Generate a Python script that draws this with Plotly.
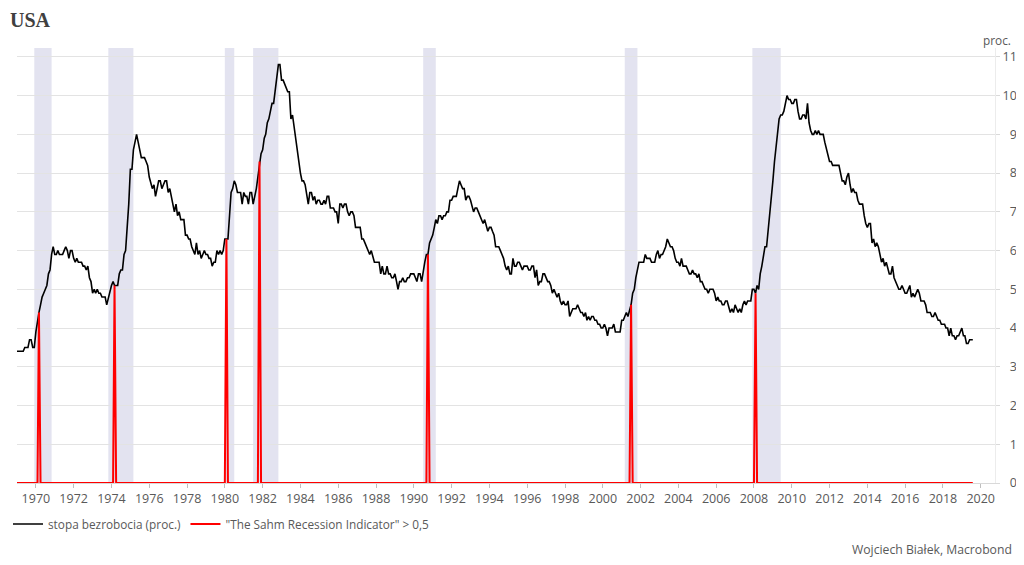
"""USA unemployment rate vs. Sahm recession indicator triggers."""

import pandas as pd
import plotly.graph_objects as go

FONT = "Open Sans, Noto Sans, sans-serif"
GREY_TEXT = "#595959"
GRID = "#e3e3e3"

# Monthly US unemployment rate, Jan 1969 - Aug 2019 (proc.)
start_month = "1969-01-01"
unemployment = [
    3.4, 3.4, 3.4, 3.4, 3.4, 3.5, 3.5, 3.5, 3.7, 3.7, 3.5, 3.5,  # 1969
    3.9, 4.2, 4.4, 4.6, 4.8, 4.9, 5.0, 5.1, 5.4, 5.5, 5.9, 6.1,  # 1970
    5.9, 5.9, 6.0, 5.9, 5.9, 5.9, 6.0, 6.1, 6.0, 5.8, 6.0, 6.0,  # 1971
    5.8, 5.7, 5.8, 5.7, 5.7, 5.7, 5.6, 5.6, 5.5, 5.6, 5.3, 5.2,  # 1972
    4.9, 5.0, 4.9, 5.0, 4.9, 4.9, 4.8, 4.8, 4.8, 4.6, 4.8, 4.9,  # 1973
    5.1, 5.2, 5.1, 5.1, 5.1, 5.4, 5.5, 5.5, 5.9, 6.0, 6.6, 7.2,  # 1974
    8.1, 8.1, 8.6, 8.8, 9.0, 8.8, 8.6, 8.4, 8.4, 8.4, 8.3, 8.2,  # 1975
    7.9, 7.7, 7.6, 7.7, 7.4, 7.6, 7.8, 7.8, 7.6, 7.7, 7.8, 7.8,  # 1976
    7.5, 7.6, 7.4, 7.2, 7.0, 7.2, 6.9, 7.0, 6.8, 6.8, 6.8, 6.4,  # 1977
    6.4, 6.3, 6.3, 6.1, 6.0, 5.9, 6.2, 5.9, 6.0, 5.8, 5.9, 6.0,  # 1978
    5.9, 5.9, 5.8, 5.8, 5.6, 5.7, 5.7, 6.0, 5.9, 6.0, 5.9, 6.0,  # 1979
    6.3, 6.3, 6.3, 6.9, 7.5, 7.6, 7.8, 7.7, 7.5, 7.5, 7.5, 7.2,  # 1980
    7.5, 7.4, 7.4, 7.2, 7.5, 7.5, 7.2, 7.4, 7.6, 7.9, 8.3, 8.5,  # 1981
    8.6, 8.9, 9.0, 9.3, 9.4, 9.6, 9.8, 9.8, 10.1, 10.4, 10.8, 10.8,  # 1982
    10.4, 10.4, 10.3, 10.2, 10.1, 10.1, 9.4, 9.5, 9.2, 8.8, 8.5, 8.3,  # 1983
    8.0, 7.8, 7.8, 7.7, 7.4, 7.2, 7.5, 7.5, 7.3, 7.4, 7.2, 7.3,  # 1984
    7.3, 7.2, 7.2, 7.3, 7.2, 7.4, 7.4, 7.1, 7.1, 7.1, 7.0, 7.0,  # 1985
    6.7, 7.2, 7.2, 7.1, 7.2, 7.2, 7.0, 6.9, 7.0, 7.0, 6.9, 6.6,  # 1986
    6.6, 6.6, 6.6, 6.3, 6.3, 6.2, 6.1, 6.0, 5.9, 6.0, 5.8, 5.7,  # 1987
    5.7, 5.7, 5.7, 5.4, 5.6, 5.4, 5.4, 5.6, 5.4, 5.4, 5.3, 5.3,  # 1988
    5.4, 5.2, 5.0, 5.2, 5.2, 5.3, 5.2, 5.2, 5.3, 5.3, 5.4, 5.4,  # 1989
    5.4, 5.3, 5.2, 5.4, 5.4, 5.2, 5.5, 5.7, 5.9, 5.9, 6.2, 6.3,  # 1990
    6.4, 6.6, 6.8, 6.7, 6.9, 6.9, 6.8, 6.9, 6.9, 7.0, 7.0, 7.3,  # 1991
    7.3, 7.4, 7.4, 7.4, 7.6, 7.8, 7.7, 7.6, 7.6, 7.3, 7.4, 7.4,  # 1992
    7.3, 7.1, 7.0, 7.1, 7.1, 7.0, 6.9, 6.8, 6.7, 6.8, 6.6, 6.5,  # 1993
    6.6, 6.6, 6.5, 6.4, 6.1, 6.1, 6.1, 6.0, 5.9, 5.8, 5.6, 5.5,  # 1994
    5.6, 5.4, 5.4, 5.8, 5.6, 5.6, 5.7, 5.7, 5.6, 5.5, 5.6, 5.6,  # 1995
    5.6, 5.5, 5.5, 5.6, 5.6, 5.3, 5.5, 5.1, 5.2, 5.2, 5.4, 5.4,  # 1996
    5.3, 5.2, 5.2, 5.1, 4.9, 5.0, 4.9, 4.8, 4.9, 4.7, 4.6, 4.7,  # 1997
    4.6, 4.6, 4.7, 4.3, 4.4, 4.5, 4.5, 4.5, 4.6, 4.5, 4.4, 4.4,  # 1998
    4.3, 4.4, 4.2, 4.3, 4.2, 4.3, 4.3, 4.2, 4.2, 4.1, 4.1, 4.0,  # 1999
    4.0, 4.1, 4.0, 3.8, 4.0, 4.0, 4.0, 4.1, 3.9, 3.9, 3.9, 3.9,  # 2000
    4.2, 4.2, 4.3, 4.4, 4.3, 4.5, 4.6, 4.9, 5.0, 5.3, 5.5, 5.7,  # 2001
    5.7, 5.7, 5.7, 5.9, 5.8, 5.8, 5.8, 5.7, 5.7, 5.7, 5.9, 6.0,  # 2002
    5.8, 5.9, 5.9, 6.0, 6.1, 6.3, 6.2, 6.1, 6.1, 6.0, 5.8, 5.7,  # 2003
    5.7, 5.6, 5.8, 5.6, 5.6, 5.6, 5.5, 5.4, 5.4, 5.5, 5.4, 5.4,  # 2004
    5.3, 5.4, 5.2, 5.2, 5.1, 5.0, 5.0, 4.9, 5.0, 5.0, 5.0, 4.9,  # 2005
    4.7, 4.8, 4.7, 4.7, 4.6, 4.6, 4.7, 4.7, 4.5, 4.4, 4.5, 4.4,  # 2006
    4.6, 4.5, 4.4, 4.5, 4.4, 4.6, 4.7, 4.6, 4.7, 4.7, 4.7, 5.0,  # 2007
    5.0, 4.9, 5.1, 5.0, 5.4, 5.6, 5.8, 6.1, 6.1, 6.5, 6.8, 7.3,  # 2008
    7.8, 8.3, 8.7, 9.0, 9.4, 9.5, 9.5, 9.6, 9.8, 10.0, 9.9, 9.9,  # 2009
    9.8, 9.8, 9.9, 9.9, 9.6, 9.4, 9.4, 9.5, 9.5, 9.4, 9.8, 9.3,  # 2010
    9.1, 9.0, 9.0, 9.1, 9.0, 9.1, 9.0, 9.0, 9.0, 8.8, 8.6, 8.5,  # 2011
    8.3, 8.3, 8.2, 8.2, 8.2, 8.2, 8.2, 8.0, 7.8, 7.8, 7.7, 7.9,  # 2012
    8.0, 7.7, 7.5, 7.6, 7.5, 7.5, 7.3, 7.2, 7.2, 7.2, 6.9, 6.7,  # 2013
    6.6, 6.7, 6.7, 6.2, 6.3, 6.1, 6.2, 6.1, 5.9, 5.7, 5.8, 5.6,  # 2014
    5.7, 5.5, 5.4, 5.4, 5.6, 5.3, 5.2, 5.1, 5.0, 5.0, 5.1, 5.0,  # 2015
    4.9, 4.9, 5.0, 5.1, 4.8, 4.9, 4.8, 4.9, 5.0, 4.9, 4.7, 4.7,  # 2016
    4.7, 4.6, 4.4, 4.4, 4.4, 4.3, 4.3, 4.4, 4.3, 4.2, 4.2, 4.1,  # 2017
    4.1, 4.1, 4.0, 4.0, 3.8, 4.0, 3.8, 3.8, 3.7, 3.8, 3.8, 3.9,  # 2018
    4.0, 3.8, 3.8, 3.6, 3.6, 3.7, 3.7, 3.7,  # 2019
]

# Months in which the Sahm indicator first crossed 0.5
sahm_trigger_months = [
    "1970-03-01", "1974-03-01", "1980-02-01", "1981-11-01",
    "1990-10-01", "2001-07-01", "2008-02-01",
]

# NBER recessions (start, end)
recessions = [
    ("1969-12-01", "1970-11-01"),
    ("1973-11-01", "1975-03-01"),
    ("1980-01-01", "1980-07-01"),
    ("1981-07-01", "1982-11-01"),
    ("1990-07-01", "1991-03-01"),
    ("2001-03-01", "2001-11-01"),
    ("2007-12-01", "2009-06-01"),
]

y_ticks = list(range(0, 12))
# figure space pads one-digit labels so the column reads right-aligned
y_tick_text = [f"\u2007{v}" if v < 10 else str(v) for v in y_ticks]

months = pd.date_range(start_month, periods=len(unemployment), freq="MS")
rate = pd.Series(unemployment, index=months)

# Red series: at trigger months it jumps to the unemployment level, 0 otherwise
sahm = pd.Series(0.0, index=months)
for m in sahm_trigger_months:
    sahm[pd.Timestamp(m)] = rate[pd.Timestamp(m)]

fig = go.Figure()

fig.add_trace(go.Scatter(
    x=months, y=rate.values,
    name="stopa bezrobocia (proc.)",
    mode="lines",
    line={"color": "#000000", "width": 1.6},
))

fig.add_trace(go.Scatter(
    x=months, y=sahm.values,
    name="\"The Sahm Recession Indicator\" > 0,5",
    mode="lines",
    line={"color": "#ff0000", "width": 2},
))

for r0, r1 in recessions:
    fig.add_vrect(
        x0=r0, x1=r1,
        fillcolor="#e3e3f0", opacity=1,
        line_width=0, layer="below",
    )

# page body adds an 8px margin, so the figure is sized to fill the rest
fig.update_layout(
    width=1008, height=549,
    margin={"l": 9, "r": 21, "t": 40, "b": 74, "autoexpand": False},
    paper_bgcolor="white",
    plot_bgcolor="white",
    font={"family": FONT, "size": 12.5, "color": GREY_TEXT},
    showlegend=True,
    legend={
        "orientation": "h",
        "xref": "container", "x": 0.0, "xanchor": "left",
        "yref": "container", "y": 0.06, "yanchor": "middle",
        "font": {"size": 11.8, "color": GREY_TEXT},
        "itemwidth": 30,
        "bgcolor": "rgba(0,0,0,0)",
    },
    title={
        "text": "<b>USA</b>",
        "font": {"family": "Liberation Serif, DejaVu Serif, serif", "size": 20, "color": "#404040"},
        "xref": "container", "x": 0.002, "xanchor": "left",
        "yref": "container", "y": 0.979, "yanchor": "middle",
    },
)

fig.update_xaxes(
    type="date",
    range=["1969-01-01", "2020-10-03"],
    dtick="M24",
    tick0="1970-01-01",
    tickformat="%Y",
    ticks="outside",
    ticklen=4,
    tickcolor="#bfbfbf",
    showgrid=False,
    showline=True,
    linecolor="#d9d9d9",
    zeroline=False,
    automargin=False,
)

fig.update_yaxes(
    side="right",
    range=[0, 11.23],
    tickmode="array",
    tickvals=y_ticks,
    ticktext=y_tick_text,
    ticks="outside",
    ticklen=4,
    tickcolor="#d9d9d9",
    showgrid=True,
    gridcolor=GRID,
    gridwidth=1,
    showline=True,
    linecolor="#ececec",
    zeroline=False,
    automargin=False,
)

fig.add_annotation(
    text="proc.", xref="paper", yref="paper",
    x=1.002, y=1.018, xanchor="center", yanchor="middle",
    showarrow=False, font={"size": 11.8, "color": GREY_TEXT},
)

fig.add_annotation(
    text="Wojciech Białek, Macrobond", xref="paper", yref="paper",
    x=1.019, y=-0.152, xanchor="right", yanchor="middle",
    showarrow=False, font={"size": 12.2, "color": GREY_TEXT},
)

fig.write_html("out.html")
